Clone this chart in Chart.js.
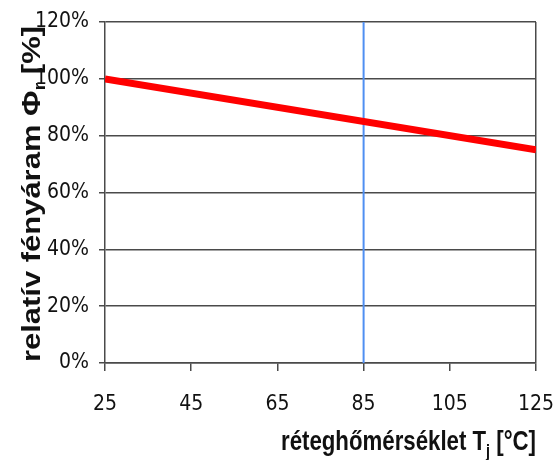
<!DOCTYPE html>
<html>
<head>
<meta charset="utf-8">
<script src="https://cdn.jsdelivr.net/npm/chart.js@4/dist/chart.umd.min.js"></script>
<style>
    html, body { margin: 0; padding: 0; background: #fff; }
    #wrap { width: 557px; height: 460px; }
</style>
</head>
<body>
<div id="wrap"><canvas id="chart"></canvas></div>
<script>
// data
const temps = [25, 125];
const relFlux = [100, 75];
const markerTemp = [85, 85];
const markerLevel = [0, 120];
const xTitleParts = [['réteghőmérséklet T', false], ['j', true], [' [°C]', false]];
const yTitleParts = [['relatív fényáram Φ', false], ['r', true], [' [%]', false]];

const tickFont = { family: '"DejaVu Sans Condensed", "Liberation Sans Narrow", Arial', size: 21 };
const lineColor = '#4a4a4a';

function drawParts(ctx, parts, font, subFont, subShift) {
    let x = 0;
    parts.forEach(([text, sub]) => {
        ctx.font = sub ? subFont : font;
        ctx.fillText(text, x, sub ? subShift : 0);
        x += ctx.measureText(text).width;
    });
    return x;
}

function measureParts(ctx, parts, font, subFont) {
    let w = 0;
    parts.forEach(([text, sub]) => {
        ctx.font = sub ? subFont : font;
        w += ctx.measureText(text).width;
    });
    return w;
}

// the titles in the picture are squeezed, so they are drawn with a scale
const axisTitles = {
    id: 'axisTitles',
    afterDraw(chart) {
        const ctx = chart.ctx;
        const area = chart.chartArea;
        ctx.save();
        ctx.fillStyle = '#111';
        ctx.textBaseline = 'alphabetic';

        // x title, right aligned under the axis
        const xFont = 'bold 28px "Liberation Sans", Arial';
        const xSub = 'bold 18px "Liberation Sans", Arial';
        const xw = measureParts(ctx, xTitleParts, xFont, xSub);
        const xLen = 255;
        ctx.save();
        ctx.translate(area.right - xLen, 450);
        ctx.scale(xLen / xw, 1);
        drawParts(ctx, xTitleParts, xFont, xSub, 7);
        ctx.restore();

        // y title, rotated
        const yFont = 'bold 26px "Liberation Sans", Arial';
        const ySub = 'bold 17px "Liberation Sans", Arial';
        const yw = measureParts(ctx, yTitleParts, yFont, ySub);
        const yLen = 336;
        ctx.save();
        ctx.translate(40, 362);
        ctx.rotate(-Math.PI / 2);
        ctx.scale(yLen / yw, 1);
        drawParts(ctx, yTitleParts, yFont, ySub, 5);
        ctx.restore();

        ctx.restore();
    }
};

new Chart(document.getElementById('chart'), {
    type: 'line',
    data: {
        datasets: [{
            data: markerTemp.map((t, i) => ({ x: t, y: markerLevel[i] })),
            borderColor: '#4f8ff2',
            borderWidth: 2,
            pointRadius: 0,
            order: 2,
        }, {
            data: temps.map((t, i) => ({ x: t, y: relFlux[i] })),
            borderColor: '#ff0000',
            borderWidth: 7,
            pointRadius: 0,
            order: 1,
        }]
    },
    options: {
        responsive: true,
        maintainAspectRatio: false,
        animation: false,
        layout: { padding: { top: 22, right: 21, left: 0, bottom: 0 } },
        plugins: {
            legend: { display: false },
            tooltip: { enabled: false },
        },
        scales: {
            x: {
                type: 'linear',
                min: 25,
                max: 125,
                afterFit: (scale) => {
                    scale.height = 97;
                    scale.paddingLeft = 0;
                    scale.paddingRight = 0;
                },
                ticks: {
                    stepSize: 20,
                    color: '#111',
                    font: tickFont,
                    padding: 21,
                    maxRotation: 0,
                },
                grid: {
                    color: (c) => c.tick && c.tick.value === 125 ? lineColor : 'rgba(0,0,0,0)',
                    tickColor: lineColor,
                    tickLength: 8,
                    lineWidth: 1.5,
                },
                border: { color: lineColor, width: 1.5 },
            },
            y: {
                min: 0,
                max: 120,
                afterFit: (scale) => {
                    scale.width = 105;
                    scale.paddingTop = 0;
                    scale.paddingBottom = 0;
                },
                ticks: {
                    stepSize: 20,
                    color: '#111',
                    font: tickFont,
                    padding: 10,
                    callback: (v) => v + '%',
                },
                grid: {
                    color: lineColor,
                    tickColor: lineColor,
                    tickLength: 6,
                    lineWidth: 1.5,
                },
                border: { color: lineColor, width: 1.5 },
            }
        }
    },
    plugins: [axisTitles]
});
</script>
</body>
</html>
